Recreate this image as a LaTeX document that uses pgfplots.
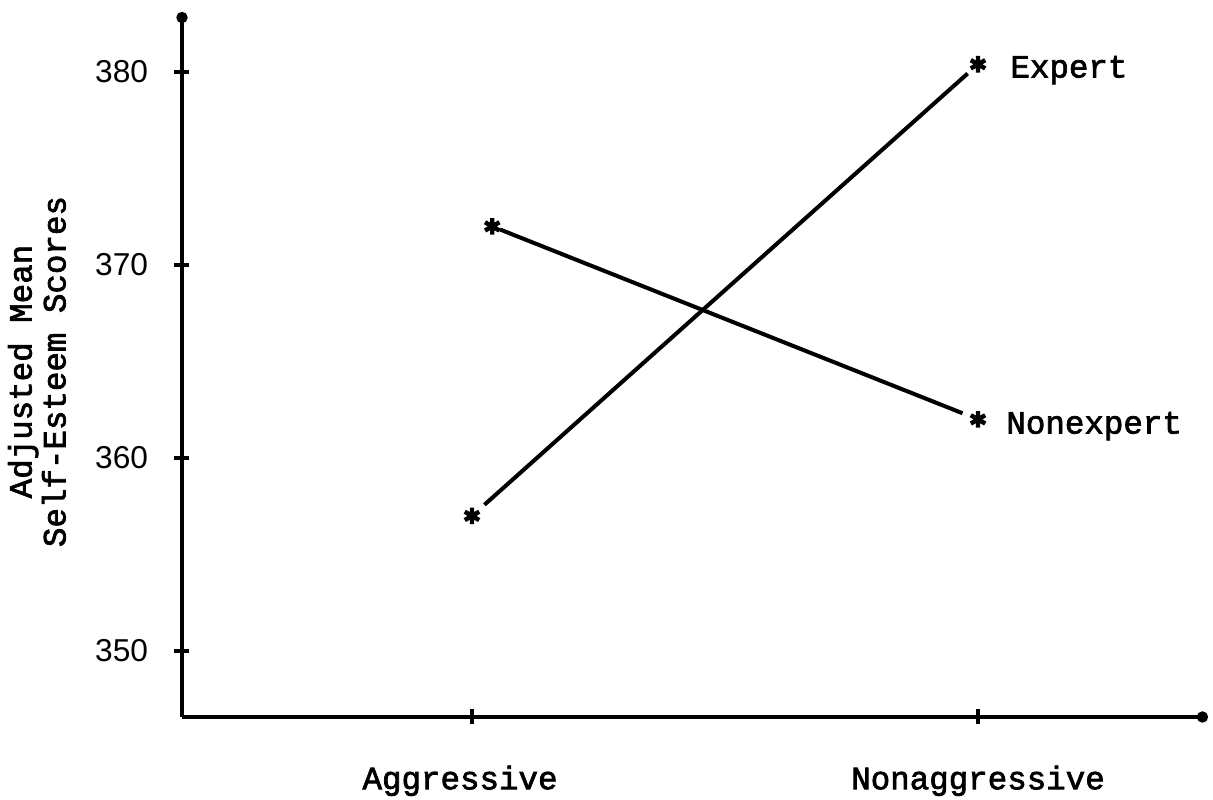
\documentclass[border=0pt]{standalone}
\usepackage{pgfplots}
\pgfplotsset{compat=1.18}
\usetikzlibrary{arrows.meta}
\usepackage{fontspec}
\newfontfamily\tw[RawFeature={embolden=2.2}]{Liberation Mono}
\newfontfamily\tk{Liberation Sans}
\begin{document}
\begin{tikzpicture}
\path[use as bounding box] (-65.52pt,-29.88pt) rectangle (371.16pt,258.12pt);
\begin{axis}[
  at={(0,0)}, anchor=south west,
  scale only axis,
  width=369.36pt, height=253.8pt,
  xmin=-0.5731, xmax=1.4545,
  ymin=346.58, ymax=383.11,
  axis lines=left,
  axis line style={line width=1.6pt, -{Circle[length=4pt]}},
  xtick={0,1},
  xticklabels={Aggressive\kern8.6pt, Nonaggressive},
  ytick={350,360,370,380},
  tick align=center,
  major tick length=5.4pt,
  tick style={line width=1.4pt, black},
  /pgf/number format/assume math mode=true,
  yticklabel style={font=\fontsize{11.4}{13}\selectfont\tk, xshift=-6pt},
  xticklabel style={font=\fontsize{11.7}{14}\selectfont\tw, yshift=-11.3pt},
  ylabel={Adjusted Mean\\Self-Esteem Scores},
  ylabel style={at={(axis description cs:-0.1414,0.49)}, anchor=center, align=center,
    font=\fontsize{11.7}{12.2}\selectfont\tw},
  clip=false,
]
% Expert
\addplot[black, line width=1.45pt, shorten <=6pt, shorten >=5pt] coordinates {(0,357) (1,380.4)};
% Nonexpert
\addplot[black, line width=1.45pt, shorten <=3pt, shorten >=6pt] coordinates {(0.04,372) (1,362)};
\addplot[only marks, mark=asterisk, mark size=3pt, mark options={line width=1.6pt, black}]
  coordinates {(0,357) (1,380.4) (0.04,372) (1,362)};
\node[anchor=west, font=\fontsize{11.7}{14}\selectfont\tw, inner sep=0pt] at (axis cs:1.063,380.1) {Expert};
\node[anchor=west, font=\fontsize{11.7}{14}\selectfont\tw, inner sep=0pt] at (axis cs:1.055,361.65) {Nonexpert};
\end{axis}
\end{tikzpicture}
\end{document}
